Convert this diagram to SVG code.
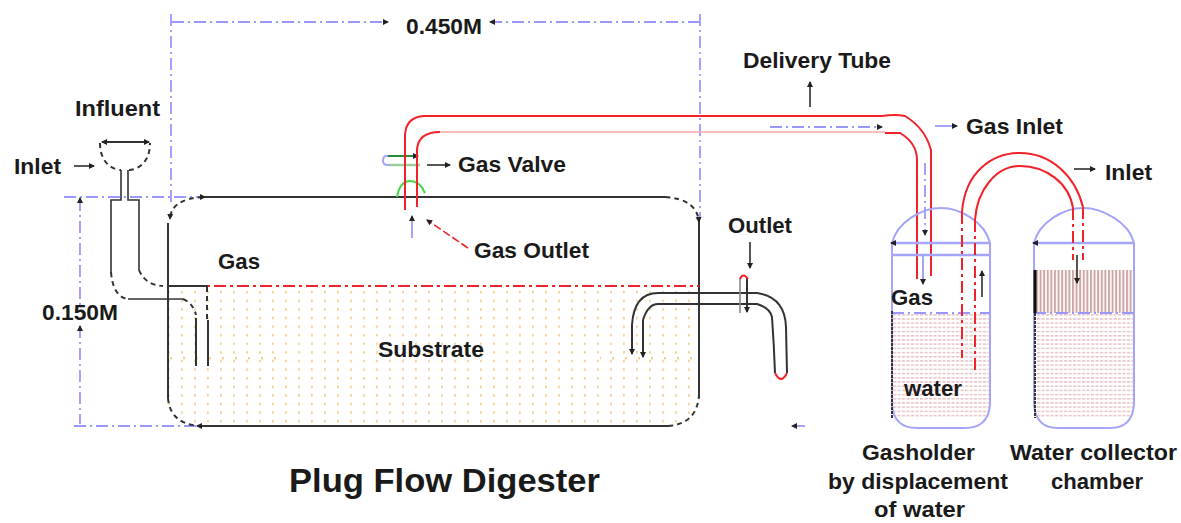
<svg xmlns="http://www.w3.org/2000/svg" width="1181" height="523" viewBox="0 0 1181 523">
<style>
text{font-family:"Liberation Sans",Arial,sans-serif;font-weight:700;font-size:22px;fill:#1a1a1a}
.k{fill:none;stroke:#333;stroke-width:2}
.kt{fill:none;stroke:#333;stroke-width:1.6}
.kd{fill:none;stroke:#333;stroke-width:2;stroke-dasharray:5 4}
.r{fill:none;stroke:#f2222a;stroke-width:2}
.rd{fill:none;stroke:#f2222a;stroke-width:2;stroke-dasharray:12 4 3 4}
.rl{fill:none;stroke:#f9a8ac;stroke-width:1.5}
.b{fill:none;stroke:#a4a4fa;stroke-width:2}
.bd{fill:none;stroke:#9898ff;stroke-width:1.8;stroke-dasharray:12 4 2 4}
.a{fill:none;stroke:#444;stroke-width:1.8;marker-end:url(#ah)}
.ab{fill:none;stroke:#a4a4fa;stroke-width:2;marker-end:url(#ah)}
</style>
<defs>
<marker id="ah" markerWidth="7" markerHeight="7" refX="5" refY="3" orient="auto-start-reverse" markerUnits="userSpaceOnUse"><path d="M0,0L6,3L0,6Z" fill="#222"/></marker>
<pattern id="sub" width="13" height="8.6" patternUnits="userSpaceOnUse" x="176" y="290"><rect x="5" y="1" width="1.8" height="2.4" fill="#f5cf8e"/></pattern>
<pattern id="sub2" width="13" height="4" patternUnits="userSpaceOnUse" x="170" y="357"><rect x="0" y="0" width="2" height="2.4" fill="#f5cf8e"/></pattern>
<pattern id="wat" width="4.5" height="4.2" patternUnits="userSpaceOnUse" x="893" y="314"><rect width="3.2" height="1.5" fill="#e6c4c4"/></pattern>
<pattern id="wat2" width="3.6" height="4" patternUnits="userSpaceOnUse" x="1036" y="270"><rect width="2" height="4" fill="#cfa6a6"/></pattern>
</defs>

<g id="substrate"><path d="M168,288H699V398Q699,426 670,426H197Q168,426 168,398Z" fill="url(#sub)"/><rect x="170" y="357" width="115" height="3" fill="url(#sub2)"/><rect x="600" y="357" width="97" height="3" fill="url(#sub2)"/></g>
<g id="water-left"><path d="M893,314H989V418H893Z" fill="url(#wat)"/></g>
<g id="water-right"><path d="M1036,314H1133V418H1036Z" fill="url(#wat)"/><rect x="1036" y="270" width="97" height="43" fill="url(#wat2)"/></g>

<g id="connectors">
<path class="bd" d="M171,14V205"/><path class="bd" d="M700,14V218"/>
<path class="bd" d="M64,197H200"/><path class="bd" d="M74,426H205"/>
<path class="bd" d="M80,199V305"/><path class="bd" d="M80,326V424"/>
<path class="a" d="M80,203V198"/><path class="a" d="M80,331V326"/>
<path class="bd" d="M172,22H388" marker-end="url(#ah)"/><path class="bd" d="M700,22H490" marker-end="url(#ah)"/>
</g>

<g id="digester">
<path class="k" d="M205,197H665"/>
<path class="kd" d="M203,197Q171,199 170,219" marker-end="url(#ah)"/>
<path class="k" d="M168,223V398"/>
<path class="kd" d="M168,398Q170,424 200,426"/>
<path class="k" d="M200,426H668"/>
<path class="kd" d="M668,426Q697,424 699,395"/>
<path class="k" d="M699,218V398"/>
<path class="kd" d="M665,197Q697,199 699,222" marker-end="url(#ah)"/>
<path class="rd" d="M168,286H699"/>
<path d="M203,197h2" class="a"/>
<path d="M198,426h-1" class="a"/>
</g>

<g id="inlet-funnel">
<path class="k" d="M102,142H149" marker-start="url(#ah)" marker-end="url(#ah)"/>
<path class="kd" d="M100,143C100,165 115,170 121,170M129,170C135,170 150,165 150,143"/>
<path class="kt" d="M121,170V200H111V272"/>
<path class="kd" d="M111,272Q113,297 128,299"/>
<path class="kt" d="M128,299H183"/>
<path class="kd" d="M183,299Q193,303 196,315"/>
<path class="k" d="M196,318V366"/>
<path class="kt" d="M128,170V200H139V270"/>
<path class="kd" d="M139,270Q145,285 163,286"/>
<path class="k" d="M168,286H208"/>
<path class="kd" d="M207,287V320"/>
<path class="k" d="M208,320V366"/>
</g>

<g id="gas-valve">
<path d="M390,156H386Q383,156 383,161Q383,165 388,165H392" fill="none" stroke="#a4a4fa" stroke-width="2"/>
<path d="M388,156H418" stroke="#2a8a3a" stroke-width="2" fill="none" marker-end="url(#ah)"/>
<path d="M390,165H420" stroke="#9dcf9d" stroke-width="2.5" fill="none"/>
<path d="M397,197Q400,181 410,181Q420,181 425,193" fill="none" stroke="#43d843" stroke-width="2"/>
</g>

<g id="delivery-tube">
<path class="r" d="M405,210V135Q406,117 424,116H882Q895,114 905,116Q925,128 931,150V276"/>
<path class="r" d="M417,207V150Q418,132 440,132"/>
<path class="rl" d="M440,132H885"/>
<path class="r" d="M885,133H900Q917,143 917,160V279"/>
<path class="bd" d="M770,127H882" marker-end="url(#ah)"/>
<path class="bd" d="M925,163V235" marker-end="url(#ah)"/>
<path class="ab" d="M923,256V284"/>
</g>

<g id="outlet-pipe">
<path class="k" d="M632,353V325Q634,293 658,293H757Q785,297 786,327L787,373"/>
<path class="k" d="M632,325V354" marker-end="url(#ah)"/>
<path class="k" d="M643,320V357" marker-end="url(#ah)"/>
<path class="k" d="M643,320Q648,304 658,304H757Q770,308 772,317Q774,345 775,373"/>
<path class="r" d="M775,373Q781,385 787,373"/>
<path class="kt" d="M740,313V278" style="stroke:#888"/>
<path class="k" d="M747,278V312" marker-end="url(#ah)"/>
<path class="r" d="M740,279Q743,272 748,279"/>
</g>

<g id="gasholder">
<path class="b" d="M892,243C897,222 922,208 941,208C960,208 985,222 990,243V405Q988,428 965,428H917Q894,428 892,405Z"/>
<path d="M892,243H990M892,255H990" fill="none" stroke="#a4a4fa" stroke-width="2.5"/>
<path class="bd" d="M892,313H990"/>
<path class="k" d="M892,311V418" stroke-dasharray="3 1"/>
<path class="a" d="M896,243H891"/>
<path class="rd" d="M962,212V358"/><path class="rd" d="M975,220V373"/>
<path class="r" d="M962,212C965,172 992,153 1020,153C1050,153 1075,175 1083,207"/>
<path class="r" d="M975,220C977,190 996,166 1020,166C1046,166 1069,183 1073,208"/>
</g>

<g id="water-collector">
<path class="b" d="M1034,243C1039,222 1064,208 1083,208C1102,208 1129,222 1134,243V405Q1132,428 1110,428H1058Q1036,428 1034,405Z"/>
<path d="M1034,243H1134" fill="none" stroke="#a4a4fa" stroke-width="2.5"/>
<path class="bd" d="M1034,313H1134"/>
<path d="M1035,270V313" stroke="#111" stroke-width="3"/>
<path class="k" d="M1035,313V418" stroke-dasharray="3 1"/>
<path class="a" d="M1038,243H1033"/>
<path class="rd" d="M1073,208V260"/><path class="rd" d="M1083,207V260"/>
</g>

<g id="arrows">
<path class="a" d="M74,166H94"/>
<path class="a" d="M427,165H450"/>
<path class="a" d="M810,107V82"/>
<path class="ab" d="M935,126H957"/>
<path class="a" d="M1074,169H1095"/>
<path class="a" d="M750,242V268"/>
<path class="a" d="M982,297V271"/>
<path class="a" d="M1077,255V283"/>
<path class="ab" d="M412,238V216"/>
<path d="M468,248L427,220" fill="none" stroke="#f2222a" stroke-width="1.6" stroke-dasharray="8 3" marker-end="url(#ah)"/>
<path class="ab" d="M805,426H792"/>
</g>

<g id="labels" lengthAdjust="spacingAndGlyphs">
<text x="406" y="34" textLength="76" lengthAdjust="spacingAndGlyphs">0.450M</text>
<text x="743" y="68" textLength="148" lengthAdjust="spacingAndGlyphs">Delivery Tube</text>
<text x="75" y="116" textLength="85" lengthAdjust="spacingAndGlyphs">Influent</text>
<text x="14" y="174" textLength="47" lengthAdjust="spacingAndGlyphs">Inlet</text>
<text x="458" y="172" textLength="108" lengthAdjust="spacingAndGlyphs">Gas Valve</text>
<text x="966" y="134" textLength="97" lengthAdjust="spacingAndGlyphs">Gas Inlet</text>
<text x="1105" y="180" textLength="47" lengthAdjust="spacingAndGlyphs">Inlet</text>
<text x="474" y="258" textLength="115" lengthAdjust="spacingAndGlyphs">Gas Outlet</text>
<text x="728" y="233" textLength="64" lengthAdjust="spacingAndGlyphs">Outlet</text>
<text x="218" y="269" textLength="42" lengthAdjust="spacingAndGlyphs">Gas</text>
<text x="42" y="320" textLength="76" lengthAdjust="spacingAndGlyphs">0.150M</text>
<text x="378" y="357" textLength="106" lengthAdjust="spacingAndGlyphs">Substrate</text>
<text x="891" y="305" textLength="42" lengthAdjust="spacingAndGlyphs">Gas</text>
<text x="904" y="396" textLength="58" lengthAdjust="spacingAndGlyphs">water</text>
<text x="862" y="460" textLength="113" lengthAdjust="spacingAndGlyphs">Gasholder</text>
<text x="828" y="489" textLength="180" lengthAdjust="spacingAndGlyphs">by displacement</text>
<text x="874" y="517" textLength="91" lengthAdjust="spacingAndGlyphs">of water</text>
<text x="1010" y="460" textLength="167" lengthAdjust="spacingAndGlyphs">Water collector</text>
<text x="1051" y="489" textLength="92" lengthAdjust="spacingAndGlyphs">chamber</text>
<text x="289" y="492" textLength="311" lengthAdjust="spacingAndGlyphs" style="font-size:33px">Plug Flow Digester</text>
</g>
</svg>
